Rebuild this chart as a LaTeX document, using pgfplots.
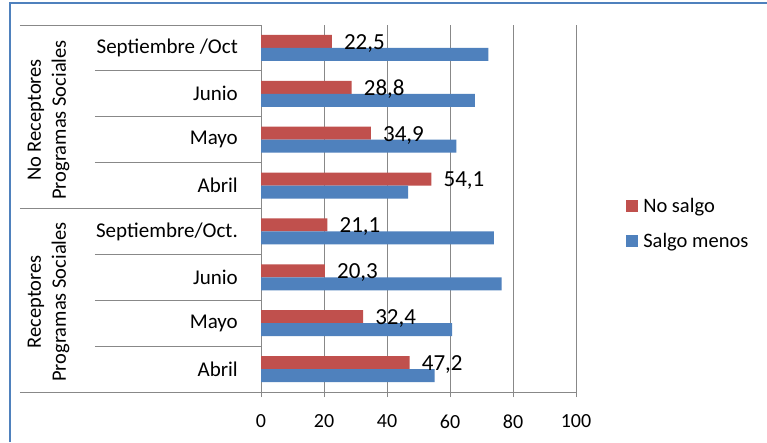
\documentclass[border=0pt]{standalone}
\usepackage{fontspec}
\setmainfont{Carlito}
\usepackage{pgfplots}
\pgfplotsset{compat=1.18}
\definecolor{rojo}{HTML}{C0504D}
\definecolor{azul}{HTML}{4F81BD}
\definecolor{linea}{HTML}{888888}

\begin{document}
\begin{tikzpicture}
\useasboundingbox (0,0) rectangle (767pt,442pt);
\fill[white] (0,0) rectangle (767pt,442pt);
\draw[azul, line width=2pt] (10pt,0) -- (10pt,438.5pt) -- (767pt,438.5pt);

\begin{axis}[
  at={(261pt,50pt)}, anchor=south west,
  scale only axis, width=315pt, height=367pt,
  clip=false,
  xbar, bar width=13pt,
  xmin=0, xmax=100, ymin=-0.5, ymax=7.5,
  axis x line*=bottom, axis y line*=left,
  axis line style={linea, line width=1pt, -},
  xtick={0,20,...,100},
  ytick={0,...,7},
  yticklabels={Abril,Mayo,Junio,Septiembre/Oct.,Abril,Mayo,Junio,Septiembre /Oct},
  xmajorgrids, major grid style={linea, line width=1pt},
  tick align=outside, xtick pos=bottom,
  major tick length=5pt,
  xtick style={linea, line width=1pt},
  ytick style={draw=none},
  /pgf/number format/assume math mode=true,
  tick label style={font=\fontsize{20}{24}\selectfont, black},
  yticklabel style={inner sep=0pt, xshift=-18pt, font=\fontsize{21}{24}\selectfont},
  xticklabel style={yshift=-14pt},
  legend image code/.code={\fill[#1] (0pt,-6pt) rectangle (12pt,6pt);},
  legend style={at={(1.159,0.459)}, anchor=west, draw=none, fill=none,
    font=\fontsize{20.5}{24}\selectfont, row sep=15pt, inner sep=0pt,
    /tikz/every odd column/.append style={column sep=3pt}},
  legend cell align=left,
]
% No salgo
\addplot[fill=rojo, draw=none, bar shift=6.5pt, point meta=x,
  nodes near coords={\pgfmathprintnumber[fixed,fixed zerofill,precision=1,use comma,assume math mode=true]{\pgfplotspointmeta}},
  nodes near coords style={font=\fontsize{23}{26}\selectfont, black, anchor=west, inner sep=0pt, xshift=12pt, yshift=-2pt}]
  coordinates {(47.2,0) (32.4,1) (20.3,2) (21.1,3) (54.1,4) (34.9,5) (28.8,6) (22.5,7)};
% Salgo menos
\addplot[fill=azul, draw=none, bar shift=-6.5pt]
  coordinates {(55.1,0) (60.7,1) (76.4,2) (73.9,3) (46.7,4) (62.0,5) (67.9,6) (72.2,7)};
\legend{No salgo, Salgo menos}

% separadores de categorias
\draw[linea, line width=1pt] ([xshift=-166pt]axis cs:0,0.5) -- (axis cs:0,0.5);
\draw[linea, line width=1pt] ([xshift=-166pt]axis cs:0,1.5) -- (axis cs:0,1.5);
\draw[linea, line width=1pt] ([xshift=-166pt]axis cs:0,2.5) -- (axis cs:0,2.5);
\draw[linea, line width=1pt] ([xshift=-166pt]axis cs:0,4.5) -- (axis cs:0,4.5);
\draw[linea, line width=1pt] ([xshift=-166pt]axis cs:0,5.5) -- (axis cs:0,5.5);
\draw[linea, line width=1pt] ([xshift=-166pt]axis cs:0,6.5) -- (axis cs:0,6.5);
\draw[linea, line width=1pt] ([xshift=-241pt]axis cs:0,-0.5) -- (axis cs:0,-0.5);
\draw[linea, line width=1pt] ([xshift=-241pt]axis cs:0,3.5) -- (axis cs:0,3.5);
\draw[linea, line width=1pt] ([xshift=-241pt]axis cs:0,7.5) -- (axis cs:0,7.5);
\end{axis}

\node[rotate=90, align=center, font=\fontsize{20.5}{25}\selectfont] at (48.5pt,322pt) {No Receptores\\Programas Sociales};
\node[rotate=90, align=center, font=\fontsize{20.5}{25}\selectfont] at (48.5pt,140pt) {Receptores\\Programas Sociales};
\end{tikzpicture}
\end{document}
